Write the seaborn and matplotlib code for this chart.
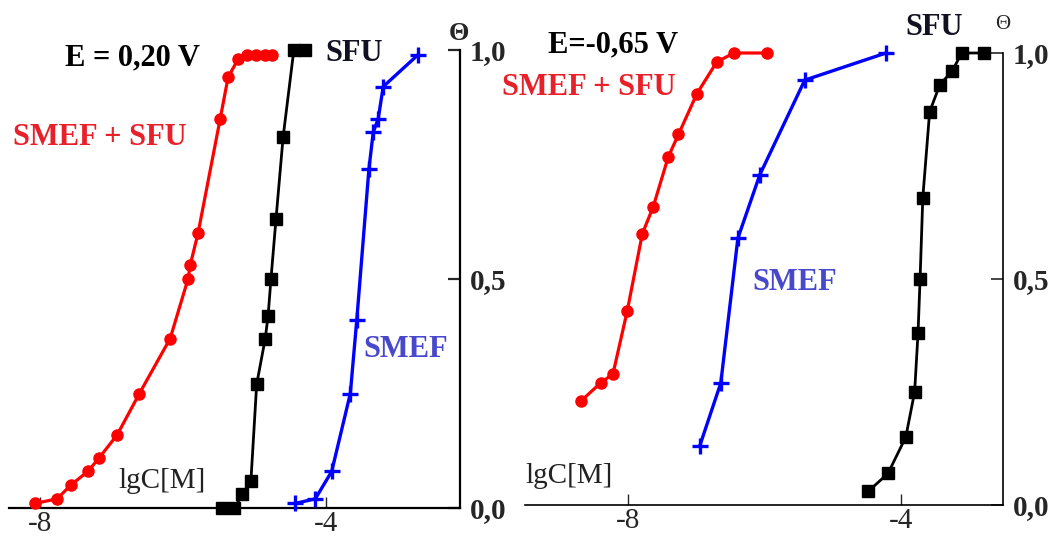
import matplotlib
matplotlib.use("Agg")
import matplotlib.pyplot as plt
import seaborn as sns

sns.set_style("white")
plt.rcParams["font.family"] = ["Liberation Serif", "DejaVu Serif"]

# ---- Data: coverage (Theta) vs lgC[M] ----
# E = 0,20 V
l_mix_x = [-8.07, -7.76, -7.57, -7.33, -7.17, -6.92, -6.61, -6.18, -5.93, -5.90,
           -5.79, -5.48, -5.37, -5.23, -5.10, -4.98, -4.86, -4.75]
l_mix_y = [0.01, 0.02, 0.05, 0.08, 0.11, 0.16, 0.25, 0.37, 0.50, 0.53,
           0.60, 0.85, 0.94, 0.98, 0.99, 0.99, 0.99, 0.99]
l_sfu_x = [-5.45, -5.28, -5.17, -5.05, -4.97, -4.85, -4.81, -4.77, -4.70, -4.60, -4.45, -4.30]
l_sfu_y = [0.0, 0.0, 0.03, 0.06, 0.27, 0.37, 0.42, 0.50, 0.63, 0.81, 1.0, 1.0]
l_smef_x = [-4.43, -4.15, -3.92, -3.66, -3.57, -3.40, -3.34, -3.27, -3.20, -2.71]
l_smef_y = [0.01, 0.02, 0.08, 0.25, 0.41, 0.74, 0.82, 0.85, 0.92, 0.99]

# E = -0,65 V
r_mix_x = [-8.69, -8.40, -8.22, -8.01, -7.79, -7.63, -7.41, -7.26, -6.99, -6.70, -6.45, -5.96]
r_mix_y = [0.23, 0.27, 0.29, 0.43, 0.60, 0.66, 0.77, 0.82, 0.91, 0.98, 1.0, 1.0]
r_smef_x = [-6.95, -6.64, -6.39, -6.07, -5.41, -4.22]
r_smef_y = [0.13, 0.27, 0.59, 0.73, 0.94, 1.0]
r_sfu_x = [-4.48, -4.19, -3.93, -3.80, -3.75, -3.72, -3.68, -3.58, -3.43, -3.25, -3.11, -2.78]
r_sfu_y = [0.03, 0.07, 0.15, 0.25, 0.38, 0.50, 0.68, 0.87, 0.93, 0.96, 1.0, 1.0]

y_ticks = [0.0, 0.5, 1.0]
y_ticklabels = ["0,0", "0,5", "1,0"]
x_ticks = [-8, -4]
x_ticklabels = ["-8", "-4"]

RED = "#ff0000"
BLUE = "#0000ff"
BLACK = "#000000"
RED_TXT = "#e8202a"
BLUE_TXT = "#4848cc"

W, H = 1060, 537
fig = plt.figure(figsize=(W / 100, H / 100), dpi=100)


def px_axes(x0, x1, y_top, y_bot):
    return fig.add_axes([x0 / W, 1 - y_bot / H, (x1 - x0) / W, (y_bot - y_top) / H])


ax1 = px_axes(9, 460, 50, 508)
ax2 = px_axes(525, 1003, 53, 505)


def series(ax, x, y, color, marker, ms, lw, mew=1.0):
    sns.lineplot(x=x, y=y, ax=ax, color=color, marker=marker, markersize=ms,
                 linewidth=lw, markeredgewidth=mew, markeredgecolor=color,
                 sort=False, estimator=None, clip_on=False, zorder=3)


def style_axes(ax, xlim, spine_w):
    ax.set_xlim(*xlim)
    ax.set_ylim(0, 1.0)
    for s in ["top", "left"]:
        ax.spines[s].set_visible(False)
    ax.spines["bottom"].set_linewidth(spine_w)
    ax.spines["right"].set_linewidth(spine_w)
    ax.spines["bottom"].set_color("black")
    ax.spines["right"].set_color("black")
    ax.yaxis.tick_right()
    ax.set_yticks(y_ticks)
    ax.set_yticklabels(y_ticklabels, fontsize=21, fontweight="bold")
    ax.set_xticks(x_ticks)
    ax.set_xticklabels(x_ticklabels, fontsize=21)
    ax.tick_params(axis="y", direction="in", length=9, width=spine_w, pad=7, right=True, left=False)
    ax.tick_params(axis="x", direction="in", length=8, width=1.0, pad=2, bottom=True)
    ax.set_xlabel("")
    ax.set_ylabel("")
    ax.patch.set_alpha(0)


# Left panel: E = 0,20 V
series(ax1, l_mix_x, l_mix_y, RED, "o", 8, 2.3)
series(ax1, l_sfu_x, l_sfu_y, BLACK, "s", 8.5, 2.0)
series(ax1, l_smef_x, l_smef_y, BLUE, "+", 11, 2.4, mew=2.4)
style_axes(ax1, (-8.434, -2.126), 1.6)

tb = dict(fontsize=22, fontweight="bold", ha="left", va="baseline", clip_on=False)
ax1.text(-7.65, 0.967, "E = 0,20 V", color=BLACK, **tb)
ax1.text(-4.01, 0.976, "SFU", color="#111122", **tb)
ax1.text(-8.38, 0.793, "SMEF + SFU", color=RED_TXT, **tb)
ax1.text(-3.48, 0.330, "SMEF", color=BLUE_TXT, **tb)
ax1.text(-6.91, 0.044, "lgC[M]", fontsize=21, color="#222222", ha="left", va="baseline")
ax1.text(-2.14, 1.037, "Θ", fontsize=19, fontweight="bold", ha="center", va="center", clip_on=False)

# Right panel: E = -0,65 V
series(ax2, r_mix_x, r_mix_y, RED, "o", 8, 2.3)
series(ax2, r_smef_x, r_smef_y, BLUE, "+", 11, 2.4, mew=2.4)
series(ax2, r_sfu_x, r_sfu_y, BLACK, "s", 8.5, 2.0)
style_axes(ax2, (-9.509, -2.505), 1.2)

ax2.text(-9.17, 1.002, "E=-0,65 V", color=BLACK, **tb)
ax2.text(-9.85, 0.907, "SMEF + SFU", color=RED_TXT, **tb)
ax2.text(-6.18, 0.476, "SMEF", color=BLUE_TXT, **tb)
ax2.text(-3.94, 1.040, "SFU", color="#111122", **tb)
ax2.text(-9.51, 0.049, "lgC[M]", fontsize=21, color="#222222", ha="left", va="baseline")
ax2.text(-2.51, 1.062, "Θ", fontsize=15, ha="center", va="center", clip_on=False)

fig.savefig("out.png", dpi=100, facecolor="white")
